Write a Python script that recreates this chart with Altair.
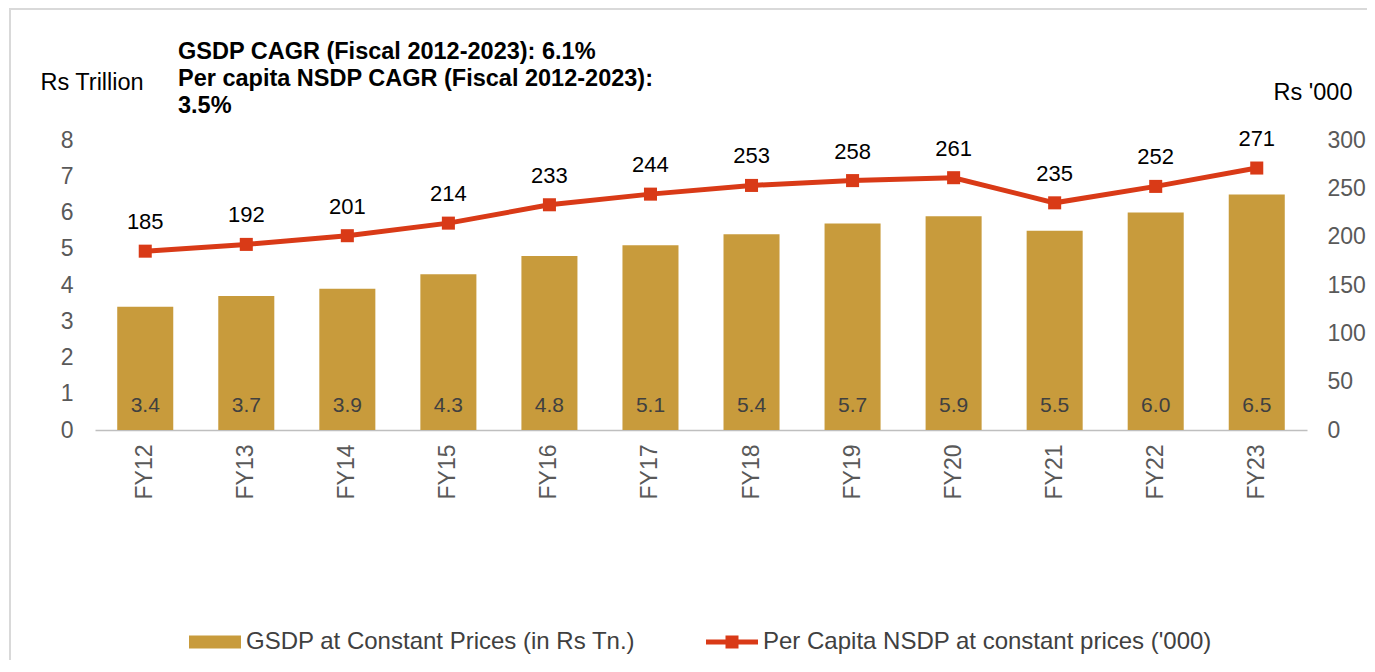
import altair as alt
import pandas as pd

years = ["FY12", "FY13", "FY14", "FY15", "FY16", "FY17", "FY18", "FY19", "FY20", "FY21", "FY22", "FY23"]
gsdp = [3.4, 3.7, 3.9, 4.3, 4.8, 5.1, 5.4, 5.7, 5.9, 5.5, 6.0, 6.5]
per_capita = [185, 192, 201, 214, 233, 244, 253, 258, 261, 235, 252, 271]
series_names = ["GSDP at Constant Prices (in Rs Tn.)", "Per Capita NSDP at constant prices ('000)"]
left_ticks = [0, 1, 2, 3, 4, 5, 6, 7, 8]
right_ticks = [0, 50, 100, 150, 200, 250, 300]
title_lines = ["GSDP CAGR (Fiscal 2012-2023): 6.1%", "Per capita NSDP CAGR (Fiscal 2012-2023):", "3.5%"]

GOLD = "#C89B3C"
RED = "#D93A17"
FONT = "Liberation Sans"

df = pd.DataFrame({"year": years, "gsdp": gsdp, "pc": per_capita})
one = pd.DataFrame({"k": [0]})
leg_df = pd.DataFrame({"series": series_names})

x = alt.X(
    "year:N", sort=years,
    scale=alt.Scale(paddingInner=0.4455, paddingOuter=0.22),
    axis=alt.Axis(title=None, labelAngle=270, labelAlign="right", labelBaseline="middle",
                  labelPadding=14, ticks=False, domainColor="#bfbfbf", domainWidth=1.5,
                  labelFontSize=23, labelColor="#595959", labelFont=FONT),
)

base = alt.Chart(df)

left_axis = alt.Axis(values=left_ticks, title="Rs Trillion", grid=False, domain=False, ticks=False,
                     labelPadding=22, labelFontSize=23, labelColor="#595959", labelFont=FONT,
                     titleAngle=0, titleX=-55, titleY=-58, titleAlign="left", titleBaseline="middle",
                     titleFontSize=23.5, titleFontWeight="normal", titleColor="black", titleFont=FONT)
yL = alt.Y("gsdp:Q", scale=alt.Scale(domain=[0, 8]), axis=left_axis)

bars = base.mark_bar(color=GOLD).encode(x=x, y=yL)
bar_text = base.transform_calculate(zero="0").mark_text(
    dy=-24, fontSize=21, color="#404040", font=FONT
).encode(x=x, y=alt.Y("zero:Q", scale=alt.Scale(domain=[0, 8]), axis=left_axis),
         text=alt.Text("gsdp:Q", format=".1f"))

left = alt.layer(bars, bar_text)

yR = alt.Y("pc:Q", scale=alt.Scale(domain=[0, 300]),
           axis=alt.Axis(orient="right", values=right_ticks, title="Rs '000", grid=False, domain=False,
                         ticks=False, labelPadding=20, labelAlign="left", labelFontSize=23,
                         labelColor="#595959", labelFont=FONT,
                         titleAngle=0, titleX=45, titleY=-48, titleAlign="right", titleBaseline="middle",
                         titleFontSize=23.5, titleFontWeight="normal", titleColor="black", titleFont=FONT))

line = base.mark_line(color=RED, strokeWidth=5).encode(x=x, y=yR)
points = base.mark_point(shape="square", filled=True, size=170, opacity=1, color=RED).encode(x=x, y=yR)
line_text = base.mark_text(dy=-29, fontSize=22, color="black", font=FONT).encode(
    x=x, y=yR, text=alt.Text("pc:Q"))

right = alt.layer(line, points, line_text)

bar_path = "M-1,-0.25H1V0.25H-1Z"
line_path = "M-1,-0.1H1V0.1H-1Z M-0.25,-0.25H0.25V0.25H-0.25Z"
leg_props = dict(title=None, orient="none", legendX=94, legendY=476, direction="horizontal",
                 columnPadding=70, labelFontSize=24, labelColor="#404040", labelFont=FONT,
                 labelOffset=5, labelLimit=0, symbolStrokeWidth=0, symbolSize=2704)
legend_layer = alt.Chart(leg_df).mark_point(filled=True, size=2704, clip=True, opacity=1).encode(
    x=alt.value(-3000), y=alt.value(-3000),
    color=alt.Color("series:N", scale=alt.Scale(domain=series_names, range=[GOLD, RED]),
                    legend=alt.Legend(**leg_props)),
    shape=alt.Shape("series:N", scale=alt.Scale(domain=series_names, range=[bar_path, line_path]),
                    legend=alt.Legend(**leg_props)),
)

title_text = alt.Chart(one).mark_text(
    align="left", baseline="top", fontSize=23.5, fontWeight="bold", lineHeight=27,
    color="black", font=FONT, text=title_lines
).encode(x=alt.value(83), y=alt.value(-100))

border_left = alt.Chart(one).mark_rule(color="#d9d9d9", strokeWidth=2).encode(
    x=alt.value(-85), y=alt.value(-131), y2=alt.value(530))
border_top = alt.Chart(one).mark_rule(color="#d9d9d9", strokeWidth=2).encode(
    x=alt.value(-86), x2=alt.value(1280), y=alt.value(-131))

chart = alt.layer(border_left, border_top, left, right, legend_layer, title_text).resolve_scale(
    y="independent"
).properties(
    width=1212, height=290,
    padding={"left": 87, "top": 132, "right": 60, "bottom": 230},
    autosize=alt.AutoSizeParams(type="none"),
).configure_view(stroke=None)

chart.save("out.html", embed_options={"renderer": "svg", "actions": False})
